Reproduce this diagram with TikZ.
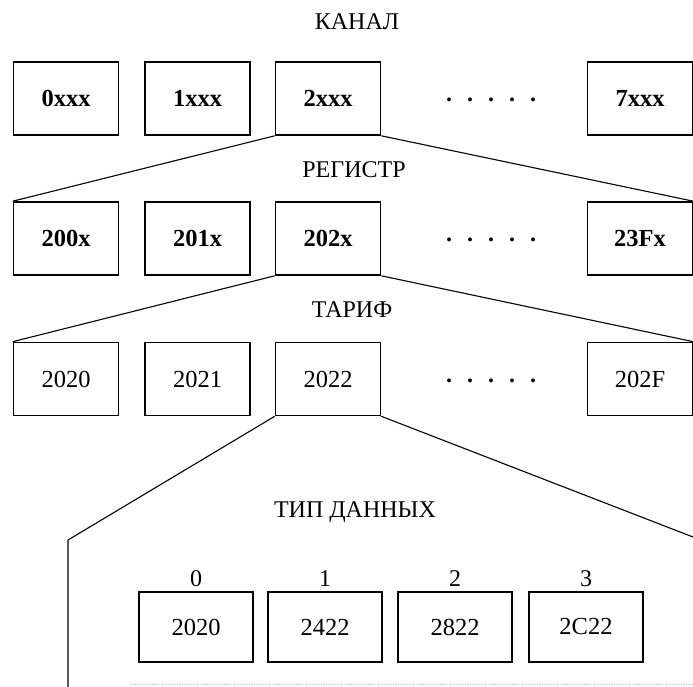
\documentclass[tikz,border=0pt]{standalone}
\usepackage{fontspec}
\setmainfont{Liberation Serif}
\begin{document}
\begin{tikzpicture}[x=1pt,y=-1pt,
  box/.style={draw,line width=1.6pt,minimum width=105pt,minimum height=73pt,inner sep=0pt,font=\fontsize{24.5}{28}\selectfont\bfseries},
  boxr/.style={box,font=\fontsize{24.5}{28}\selectfont},
  boxs/.style={boxr,minimum width=114pt,minimum height=70pt},
  ttl/.style={font=\fontsize{24}{28}\selectfont},
  conn/.style={line width=1.1pt},
  dots/.style={font=\fontsize{24}{28}\selectfont\bfseries}]
\useasboundingbox (0,0) rectangle (693,687);
% titles
\node[ttl] (tk) at (357,22) {КАНАЛ};
\node[ttl] (tr) at (354,170) {РЕГИСТР};
\node[ttl] (tt) at (352,310) {ТАРИФ};
\node[ttl] (td) at (355,512) {ТИП ДАННЫХ};
% row 1
\node[box] (a0) at (66,98.5) {0xxx};
\node[box] (a1) at (197.5,98.5) {1xxx};
\node[box] (a2) at (328,98.5) {2xxx};
\node[dots] (ad) at (491,100) {.\hspace{15pt}.\hspace{15pt}.\hspace{15pt}.\hspace{15pt}.};
\node[box] (a7) at (640,98.5) {7xxx};
% row 2
\node[box] (b0) at (66,238.5) {200x};
\node[box] (b1) at (197.5,238.5) {201x};
\node[box] (b2) at (328,238.5) {202x};
\node[dots] (bd) at (491,240) {.\hspace{15pt}.\hspace{15pt}.\hspace{15pt}.\hspace{15pt}.};
\node[box] (b3) at (640,238.5) {23Fx};
% row 3
\node[boxr] (c0) at (66,379) {2020};
\node[boxr] (c1) at (197.5,379) {2021};
\node[boxr] (c2) at (328,379) {2022};
\node[dots] (cd) at (491,381) {.\hspace{15pt}.\hspace{15pt}.\hspace{15pt}.\hspace{15pt}.};
\node[boxr] (c3) at (640,379) {202F};
% row 4
\node[boxs] (d0) at (196,627) {2020};
\node[boxs] (d1) at (325,627) {2422};
\node[boxs] (d2) at (455,627) {2822};
\node[boxs] (d3) at (586,627) {2C22};
\foreach \i in {0,1,2,3}{\node[ttl,above=1pt] (l\i) at (d\i.north) {\i};}
% connectors
\draw[conn] (a2.south west) -- (b0.north west);
\draw[conn] (a2.south east) -- (b3.north east);
\draw[conn] (b2.south west) -- (c0.north west);
\draw[conn] (b2.south east) -- (c3.north east);
\coordinate (pl) at (68,540);
\coordinate (pb) at (68,687);
\coordinate (pr) at (693,537);
\draw[conn] (pb) -- (pl) -- (c2.south west);
\draw[conn] (c2.south east) -- (pr);
\coordinate (ql) at (130,684);
\coordinate (qr) at (693,684);
\draw[gray!45,line width=0.8pt,densely dotted] (ql) -- (qr);
\end{tikzpicture}
\end{document}
